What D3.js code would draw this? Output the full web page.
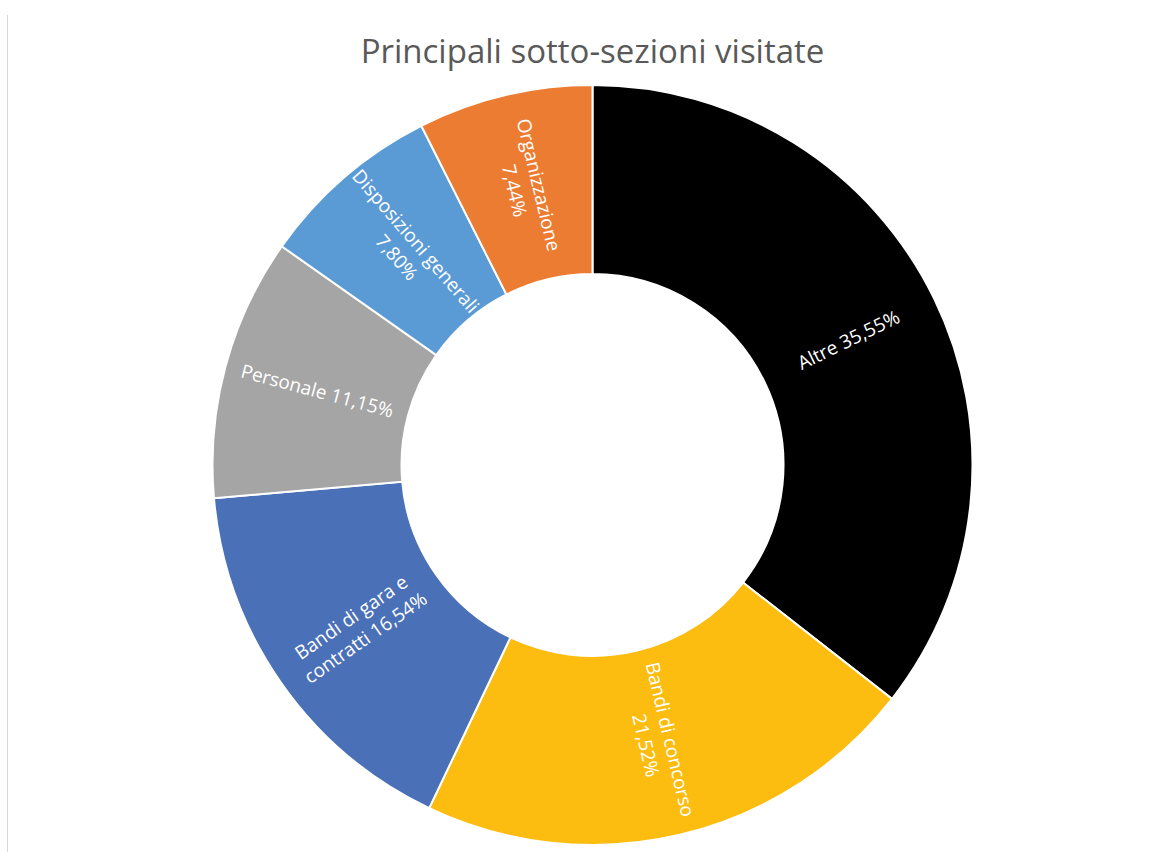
<!DOCTYPE html>
<html>
<head>
<meta charset="utf-8">
<script src="https://cdn.jsdelivr.net/npm/d3@7"></script>
<style>
  html, body { margin: 0; padding: 0; background: #fff; }
  svg { display: block; }
</style>
</head>
<body>
<div id="chart"></div>
<script>
// Data
const categories = ["Altre", "Bandi di concorso", "Bandi di gara e contratti", "Personale", "Disposizioni generali", "Organizzazione"];
const values = [35.55, 21.52, 16.54, 11.15, 7.80, 7.44];
const labelLines = [
  ["Altre 35,55%"],
  ["Bandi di concorso", "21,52%"],
  ["Bandi di gara e", "contratti 16,54%"],
  ["Personale 11,15%"],
  ["Disposizioni generali", "7,80%"],
  ["Organizzazione", "7,44%"]
];
const colors = ["#000000", "#fcbd10", "#4a70b8", "#a5a5a5", "#5b9bd5", "#ec7c31"];

const width = 1163, height = 852;
const cx = 592.5, cy = 465;
const outerR = 380, innerR = 191;

const svg = d3.select("#chart").append("svg")
  .attr("width", width)
  .attr("height", height);

// faint chart frame on the left
svg.append("line")
  .attr("x1", 7.5).attr("x2", 7.5)
  .attr("y1", 15).attr("y2", height)
  .attr("stroke", "#d9d9d9")
  .attr("stroke-width", 1);

svg.append("text")
  .attr("x", cx)
  .attr("y", 63)
  .attr("text-anchor", "middle")
  .style("font-family", "'Open Sans', sans-serif")
  .style("font-size", "33px")
  .style("fill", "#595959")
  .text("Principali sotto-sezioni visitate");

const data = categories.map((c, i) => ({ name: c, value: values[i], lines: labelLines[i], color: colors[i] }));

const pie = d3.pie().value(d => d.value).sort(null);
const arc = d3.arc().innerRadius(innerR).outerRadius(outerR);
const labelArc = d3.arc().innerRadius(285).outerRadius(285);

const g = svg.append("g").attr("transform", "translate(" + cx + "," + cy + ")");

const arcs = pie(data);

g.selectAll("path")
  .data(arcs)
  .enter()
  .append("path")
  .attr("d", arc)
  .attr("fill", d => d.data.color)
  .attr("stroke", "#fff")
  .attr("stroke-width", 2);

// labels rotated along the radius, flipped so they stay readable
const lineH = 25;
const labels = g.selectAll("g.label")
  .data(arcs)
  .enter()
  .append("g")
  .attr("class", "label")
  .attr("transform", d => {
    const [x, y] = labelArc.centroid(d);
    const mid = (d.startAngle + d.endAngle) / 2 * 180 / Math.PI;
    let rot = mid - 90;
    if (rot > 90) rot -= 180;
    return "translate(" + x + "," + y + ") rotate(" + rot + ")";
  });

labels.each(function (d) {
  const n = d.data.lines.length;
  const t = d3.select(this).append("text")
    .attr("text-anchor", "middle")
    .style("font-family", "'Open Sans', sans-serif")
    .style("font-size", "19px")
    .style("fill", "#ffffff");
  d.data.lines.forEach((ln, i) => {
    t.append("tspan")
      .attr("x", 0)
      .attr("y", (i - (n - 1) / 2) * lineH)
      .attr("dy", "0.35em")
      .text(ln);
  });
});
</script>
</body>
</html>
